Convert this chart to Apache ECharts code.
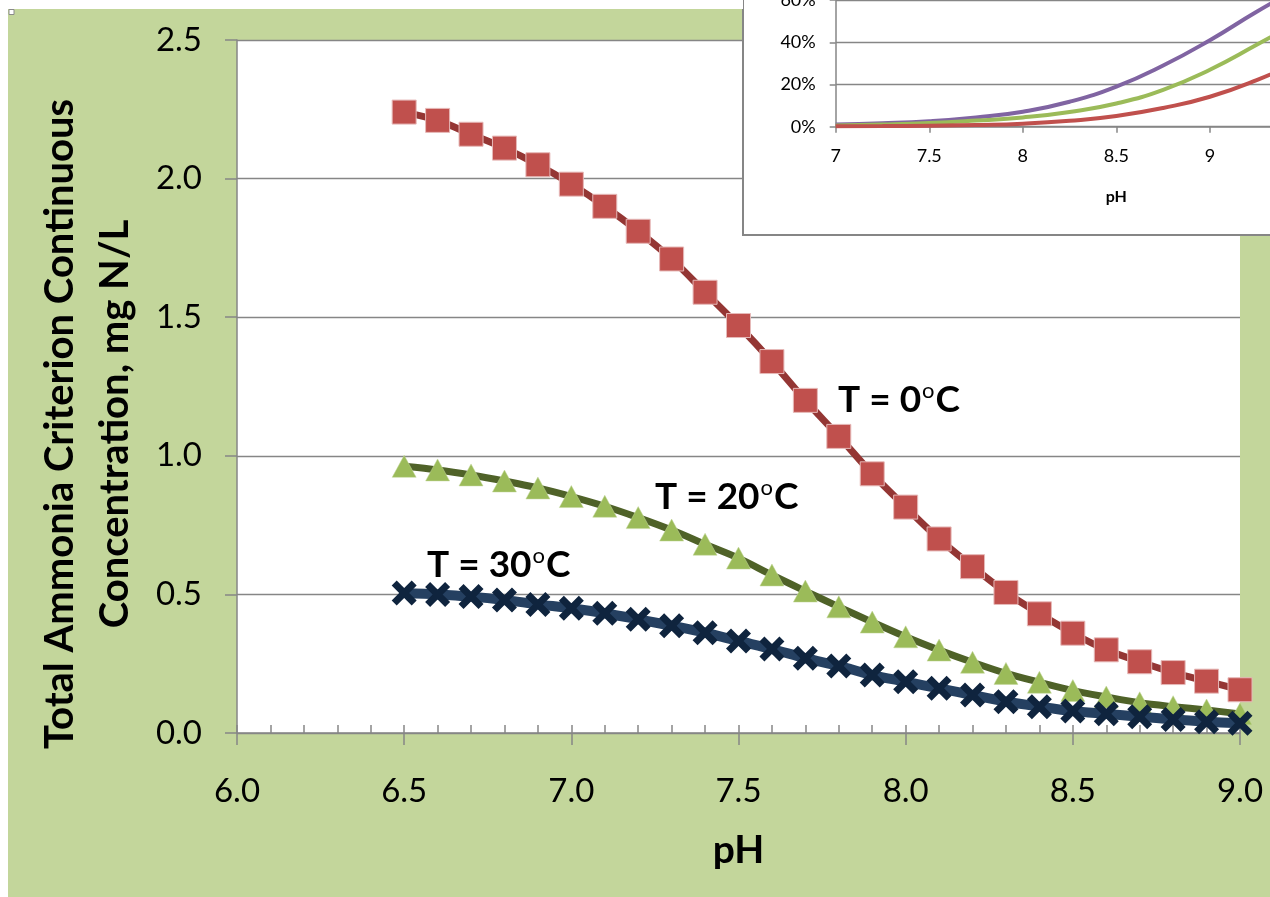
<!DOCTYPE html>
<html>
<head>
<meta charset="utf-8">
<script src="https://cdn.jsdelivr.net/npm/echarts@6/dist/echarts.min.js"></script>
<style>
html,body{margin:0;padding:0;background:#fff;}
#chart{width:1270px;height:897px;}
</style>
</head>
<body>
<div id="chart"></div>
<script>
// ---- Main chart data ----
const pH = [6.5, 6.6, 6.7, 6.8, 6.9, 7.0, 7.1, 7.2, 7.3, 7.4, 7.5, 7.6, 7.7, 7.8, 7.9, 8.0, 8.1, 8.2, 8.3, 8.4, 8.5, 8.6, 8.7, 8.8, 8.9, 9.0];
const cccT0 = [2.24, 2.21, 2.16, 2.11, 2.05, 1.98, 1.90, 1.81, 1.71, 1.59, 1.47, 1.34, 1.20, 1.07, 0.935, 0.815, 0.70, 0.60, 0.507, 0.43, 0.36, 0.30, 0.257, 0.218, 0.187, 0.156];
const cccT20 = [0.962, 0.949, 0.931, 0.909, 0.884, 0.853, 0.818, 0.777, 0.732, 0.681, 0.631, 0.570, 0.512, 0.455, 0.400, 0.347, 0.299, 0.255, 0.215, 0.183, 0.153, 0.130, 0.109, 0.095, 0.083, 0.069];
const cccT30 = [0.505, 0.500, 0.492, 0.480, 0.464, 0.450, 0.432, 0.410, 0.387, 0.362, 0.332, 0.303, 0.270, 0.242, 0.209, 0.185, 0.161, 0.137, 0.113, 0.095, 0.079, 0.069, 0.059, 0.049, 0.041, 0.035];
const yTitle = ['Total Ammonia Criterion Continuous', 'Concentration, mg N/L'];
const xTitle = 'pH';
const seriesLabels = [['T = 0', 'C'], ['T = 20', 'C'], ['T = 30', 'C']];

// ---- Inset data (percent un-ionized) ----
const insetPH = [7.0, 7.25, 7.5, 7.75, 8.0, 8.25, 8.5, 8.75, 9.0, 9.25, 9.5];
const insetPurple = [1.0, 1.6, 2.6, 4.4, 7.1, 11.8, 19.0, 29.0, 41.0, 54.5, 67.0];
const insetGreen = [0.6, 1.0, 1.7, 2.9, 4.4, 7.0, 11.0, 17.5, 27.0, 38.8, 51.0];
const insetRed = [0.2, 0.3, 0.5, 0.8, 1.4, 2.8, 5.1, 8.9, 14.2, 22.1, 32.0];

const pair = (xs, ys) => xs.map((x, i) => [x, ys[i]]);
const FONT = 'Lato';
const AX = '#868686';
const XPATH = 'path://M0,20 L20,0 L50,30 L80,0 L100,20 L70,50 L100,80 L80,100 L50,70 L20,100 L0,80 L30,50 Z';

const chart = echarts.init(document.getElementById('chart'), null, {renderer: 'canvas'});

function labelText(parts, x, y) {
  return {
    type: 'text', x: x, y: y, z: 20,
    style: {
      text: '{a|' + parts[0] + '}{s|o}{a|' + parts[1] + '}',
      textAlign: 'left', textVerticalAlign: 'middle',
      rich: {
        a: {fontSize: 37, fontWeight: 'bold', fontFamily: FONT, fill: '#000', color: '#000', lineHeight: 40},
        s: {fontSize: 22, fontWeight: 'normal', fontFamily: FONT, fill: '#000', color: '#000', verticalAlign: 'top', lineHeight: 22, padding: [0, 1, 19, 1]}
      }
    }
  };
}

const option = {
  animation: false,
  backgroundColor: '#c3d69b',
  textStyle: {fontFamily: FONT},
  grid: [
    {left: 237, right: 30, top: 40, bottom: 164, show: true, backgroundColor: '#ffffff', borderWidth: 0, outerBoundsMode: 'none', containLabel: false},
    {left: 835.7, right: -127, top: -84.3, bottom: 770.3, outerBoundsMode: 'none', containLabel: false}
  ],
  xAxis: [
    {
      gridIndex: 0, type: 'value', min: 6, max: 9, interval: 0.5, z: 1,
      axisLine: {show: true, lineStyle: {color: AX, width: 1.5}},
      axisTick: {show: true, inside: true, length: 8, lineStyle: {color: AX, width: 1.5}},
      minorTick: {show: true, splitNumber: 5, length: 8, lineStyle: {color: AX, width: 1.5}},
      splitLine: {show: false},
      axisLabel: {fontSize: 33, fontFamily: FONT, color: '#000', margin: 42, formatter: v => v.toFixed(1)},
      name: xTitle, nameLocation: 'middle', nameGap: 98,
      nameTextStyle: {fontSize: 39, fontWeight: 'bold', fontFamily: FONT, color: '#000'}
    },
    {
      gridIndex: 0, type: 'value', min: 6, max: 9, interval: 0.5, position: 'bottom', z: 1,
      axisLine: {show: false},
      axisTick: {show: true, inside: false, length: 12, lineStyle: {color: AX, width: 1.5}},
      splitLine: {show: false},
      axisLabel: {show: false}
    },
    {
      gridIndex: 1, type: 'value', min: 7, max: 10, interval: 0.5, z: 8,
      axisLine: {show: true, lineStyle: {color: AX, width: 1.5}},
      axisTick: {show: true, length: 6, lineStyle: {color: AX, width: 1.5}},
      splitLine: {show: false},
      axisLabel: {fontSize: 18, fontFamily: FONT, color: '#000', margin: 20},
      name: 'pH', nameLocation: 'middle', nameGap: 62,
      nameTextStyle: {fontSize: 16, fontWeight: 'bold', fontFamily: FONT, color: '#000'}
    }
  ],
  yAxis: [
    {
      gridIndex: 0, type: 'value', min: 0, max: 2.5, interval: 0.5, z: 1,
      axisLine: {show: true, lineStyle: {color: AX, width: 1.5}},
      axisTick: {show: true, length: 12, lineStyle: {color: AX, width: 1.5}},
      splitLine: {show: true, lineStyle: {color: AX, width: 1.3}},
      axisLabel: {fontSize: 33, fontFamily: FONT, color: '#000', margin: 35, formatter: v => v.toFixed(1)}
    },
    {
      gridIndex: 1, type: 'value', min: 0, max: 100, interval: 20, z: 8,
      axisLine: {show: true, lineStyle: {color: AX, width: 1.5}},
      axisTick: {show: true, length: 6, lineStyle: {color: AX, width: 1.5}},
      splitLine: {show: true, lineStyle: {color: AX, width: 1.3}},
      axisLabel: {fontSize: 18, fontFamily: FONT, color: '#000', margin: 20, formatter: '{value}%'}
    }
  ],
  series: [
    {
      type: 'line', xAxisIndex: 0, yAxisIndex: 0, data: pair(pH, cccT0), smooth: 0.3, z: 2,
      symbol: 'rect', symbolSize: 24, showAllSymbol: true, clip: false,
      lineStyle: {color: '#943634', width: 7},
      itemStyle: {color: '#c0504d', borderColor: '#e6b9b8', borderWidth: 1}
    },
    {
      type: 'line', xAxisIndex: 0, yAxisIndex: 0, data: pair(pH, cccT20), smooth: 0.3, z: 3,
      symbol: 'triangle', symbolSize: [24, 22], showAllSymbol: true, clip: false,
      lineStyle: {color: '#4f6228', width: 7},
      itemStyle: {color: '#9bbb59', borderColor: '#c3d69b', borderWidth: 0.5}
    },
    {
      type: 'line', xAxisIndex: 0, yAxisIndex: 0, data: pair(pH, cccT30), smooth: 0.3, z: 4,
      symbol: XPATH, symbolSize: 25, showAllSymbol: true, clip: false,
      lineStyle: {color: '#254061', width: 10},
      itemStyle: {color: '#0f243e'}
    },
    {
      type: 'line', xAxisIndex: 2, yAxisIndex: 1, data: pair(insetPH, insetPurple), smooth: 0.5, z: 10,
      symbol: 'none', lineStyle: {color: '#8064a2', width: 4}
    },
    {
      type: 'line', xAxisIndex: 2, yAxisIndex: 1, data: pair(insetPH, insetGreen), smooth: 0.5, z: 10,
      symbol: 'none', lineStyle: {color: '#9bbb59', width: 4}
    },
    {
      type: 'line', xAxisIndex: 2, yAxisIndex: 1, data: pair(insetPH, insetRed), smooth: 0.5, z: 10,
      symbol: 'none', lineStyle: {color: '#c0504d', width: 4}
    }
  ],
  graphic: [
    {type: 'rect', z: 100, shape: {x: 0, y: 0, width: 743, height: 9}, style: {fill: '#ffffff'}},
    {type: 'rect', z: 100, shape: {x: 0, y: 0, width: 8, height: 897}, style: {fill: '#ffffff'}},
    {type: 'rect', z: 101, shape: {x: 9, y: 9.5, width: 5, height: 5}, style: {fill: '#ffffff', stroke: '#8a8a8a', lineWidth: 1}},
    {type: 'rect', z: 5, shape: {x: 743, y: -10, width: 600, height: 245}, style: {fill: '#ffffff', stroke: AX, lineWidth: 2}},
    {
      type: 'text', x: 88, y: 424, rotation: Math.PI / 2, z: 20,
      style: {
        text: yTitle.join('\n'), font: 'bold 40px ' + FONT, fill: '#000',
        textAlign: 'center', textVerticalAlign: 'middle', lineHeight: 55
      }
    },
    labelText(seriesLabels[0], 838, 400),
    labelText(seriesLabels[1], 655, 497),
    labelText(seriesLabels[2], 427, 565)
  ]
};
chart.setOption(option);
</script>
</body>
</html>
